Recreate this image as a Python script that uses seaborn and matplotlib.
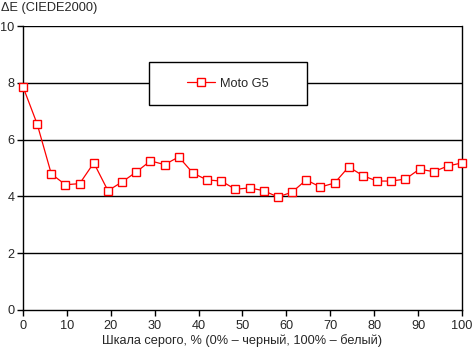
import numpy as np
import pandas as pd
import matplotlib
matplotlib.use("Agg")
import matplotlib.pyplot as plt
from matplotlib.patches import Rectangle
import seaborn as sns

series_name = "Moto G5"
gray_pct = [i * 100 / 31 for i in range(32)]
delta_e = [7.86, 6.55, 4.79, 4.41, 4.45, 5.18, 4.20, 4.51, 4.86, 5.25,
           5.12, 5.39, 4.82, 4.58, 4.54, 4.25, 4.30, 4.20, 3.98, 4.15,
           4.58, 4.33, 4.47, 5.04, 4.73, 4.54, 4.54, 4.61, 4.96, 4.87,
           5.07, 5.18]
x_ticks = [0, 10, 20, 30, 40, 50, 60, 70, 80, 90, 100]
y_ticks = [0, 2, 4, 6, 8, 10]

df = pd.DataFrame({"x": gray_pct, "y": delta_e, "s": series_name})

sns.set_style("white")
plt.rcParams["font.family"] = ["Liberation Sans", "DejaVu Sans"]
FS = 9.2

W, H = 472, 352
fig = plt.figure(figsize=(W / 100, H / 100), dpi=100)
ax = fig.add_axes([23 / W, (H - 310) / H, (462 - 23) / W, (310 - 26) / H])

for yv in y_ticks[1:]:
    ax.axhline(yv, color="black", lw=1, zorder=1)

sns.lineplot(data=df, x="x", y="y", hue="s", palette=["#ff0000"], marker="s",
             markersize=6, markerfacecolor="white", markeredgecolor="#ff0000",
             markeredgewidth=1, lw=0.9, ax=ax, legend=True, zorder=5, clip_on=False)

ax.set_xlim(0, 100)
ax.set_ylim(0, 10)
ax.set_xticks(x_ticks)
ax.set_yticks(y_ticks)
ax.tick_params(axis="both", direction="out", length=4, width=1, color="black",
               labelsize=FS, pad=3, left=True, bottom=True)
ax.tick_params(axis="y", pad=2)
for sp in ["left", "right", "bottom"]:
    ax.spines[sp].set_visible(True)
    ax.spines[sp].set_color("black")
    ax.spines[sp].set_linewidth(1)
ax.spines["top"].set_visible(False)

ax.set_xlabel("Шкала серого, % (0% – черный, 100% – белый)", fontsize=FS, labelpad=2)
ax.set_ylabel("")
fig.text(1 / W, 1 - 2 / H, "ΔE (CIEDE2000)", ha="left", va="top", fontsize=FS)

# legend box
bx0, bx1, by0, by1 = 149, 307, 62, 105
def ax_coords(px, py):
    return (px - 23) / (462 - 23), (310 - py) / (310 - 26)
x0, y1 = ax_coords(bx0, by0)
x1, y0 = ax_coords(bx1, by1)
ax.add_patch(Rectangle((x0, y0), x1 - x0, y1 - y0, transform=ax.transAxes,
                       facecolor="white", edgecolor="black", lw=1, zorder=3))
handles, labels = ax.get_legend_handles_labels()
leg = ax.legend(handles, labels, loc="center", bbox_to_anchor=((x0 + x1) / 2, (y0 + y1) / 2),
                frameon=False, fontsize=FS, handlelength=2.2, handletextpad=0.4)
leg.set_zorder(6)

fig.savefig("out.png", dpi=100)
